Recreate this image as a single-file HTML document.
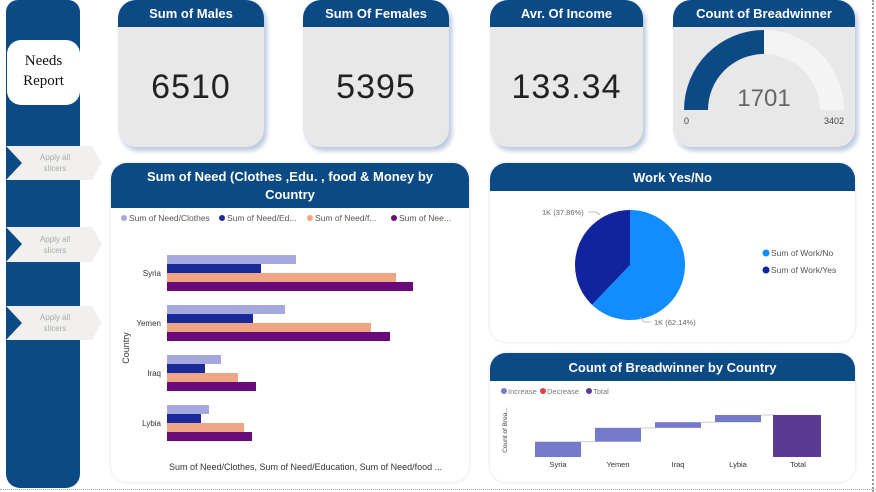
<!DOCTYPE html>
<html><head><meta charset="utf-8"><style>
body{margin:0;width:876px;height:492px;background:#fff;overflow:hidden;font-family:"Liberation Sans",sans-serif;position:relative}
.abs{position:absolute}
.card{position:absolute;background:#e8e8e9;border-radius:18px;box-shadow:3px 4px 5px rgba(60,100,160,.35);overflow:hidden}
.hdr{background:#0b4a85;color:#fff;font-weight:bold;text-align:center;font-size:13px}
.num{position:absolute;width:100%;text-align:center;font-size:34px;color:#222;letter-spacing:1px}
.panel{position:absolute;background:#fff;border-radius:16px;box-shadow:0 0 3px rgba(0,0,0,.15);overflow:hidden}
</style></head><body>
<div class="abs" style="left:872px;top:0;width:0;height:492px;border-left:2px dotted #999"></div>
<div class="abs" style="left:0;top:489px;width:876px;height:0;border-top:1px dotted #aaa"></div>
<div class="abs" style="left:6px;top:0;width:74px;height:488px;background:#0b4a85;border-radius:12px 12px 14px 14px"></div>
<div class="abs" style="left:7px;top:40px;width:73px;height:65px;background:#fff;border-radius:14px;font-family:'Liberation Serif',serif;font-size:15px;text-align:center;line-height:20px;padding-top:11px;box-sizing:border-box;color:#111">Needs<br>Report</div>
<svg class="abs" style="left:0;top:0" width="110" height="492">
<g><polygon points="6,146 92,146 102,163 92,180 6,180 22,163" fill="#f1f0ee"/><text x="55" y="160" font-size="8" fill="#aaa" text-anchor="middle">Apply all</text><text x="55" y="171" font-size="8" fill="#aaa" text-anchor="middle">slicers</text></g>
<g><polygon points="6,227 92,227 102,244 92,262 6,262 22,244" fill="#f1f0ee"/><text x="55" y="242" font-size="8" fill="#aaa" text-anchor="middle">Apply all</text><text x="55" y="253" font-size="8" fill="#aaa" text-anchor="middle">slicers</text></g>
<g><polygon points="6,306 92,306 102,323 92,340 6,340 22,323" fill="#f1f0ee"/><text x="55" y="320" font-size="8" fill="#aaa" text-anchor="middle">Apply all</text><text x="55" y="331" font-size="8" fill="#aaa" text-anchor="middle">slicers</text></g>
</svg>

<div class="card" style="left:118px;top:0;width:146px;height:147px"><div class="hdr" style="height:27px;line-height:28px">Sum of Males</div><div class="num" style="top:68px">6510</div></div>
<div class="card" style="left:303px;top:0;width:146px;height:147px"><div class="hdr" style="height:27px;line-height:28px">Sum Of Females</div><div class="num" style="top:68px">5395</div></div>
<div class="card" style="left:490px;top:0;width:153px;height:147px"><div class="hdr" style="height:27px;line-height:28px">Avr. Of Income</div><div class="num" style="top:68px">133.34</div></div>
<div class="card" style="left:673px;top:0;width:182px;height:147px"><div class="hdr" style="height:27px;line-height:28px">Count of Breadwinner</div>
<svg class="abs" style="left:0;top:0" width="182" height="147">
<path d="M11,110 A80,80 0 0 1 171,110 L147,110 A56,56 0 0 0 35,110 Z" fill="#f4f4f4"/>
<path d="M11,110 A80,80 0 0 1 91,30 L91,54 A56,56 0 0 0 35,110 Z" fill="#0b4a85"/>
<text x="91" y="106" font-size="24" fill="#666" text-anchor="middle">1701</text>
<text x="11" y="124" font-size="9" fill="#444">0</text>
<text x="171" y="124" font-size="9" fill="#444" text-anchor="end">3402</text>
</svg></div>

<div class="panel" style="left:111px;top:163px;width:358px;height:319px">
<div class="hdr" style="height:45px;line-height:18px;padding-top:5px;box-sizing:border-box">Sum of Need (Clothes ,Edu. , food &amp; Money by<br>Country</div>
<svg id="bar" class="abs" style="left:0;top:0" width="358" height="319"></svg></div>

<div class="panel" style="left:490px;top:163px;width:365px;height:179px">
<div class="hdr" style="height:28px;line-height:30px">Work Yes/No</div>
<svg id="pie" class="abs" style="left:0;top:0" width="365" height="179"></svg></div>

<div class="panel" style="left:490px;top:353px;width:365px;height:129px">
<div class="hdr" style="height:28px;line-height:30px">Count of Breadwinner by Country</div>
<svg id="wf" class="abs" style="left:0;top:0" width="365" height="129"></svg></div>

<script>
const NS="http://www.w3.org/2000/svg";
function mk(p,t,a){const e=document.createElementNS(NS,t);for(const k in a)e.setAttribute(k,a[k]);p.appendChild(e);return e;}
// ---- bar chart data
const countries=["Syria","Yemen","Iraq","Lybia"];
const seriesNames=["Sum of Need/Clothes","Sum of Need/Ed...","Sum of Need/f...","Sum of Nee..."];
const clothes=[129,118,54,42];
const education=[94,86,38,34];
const food=[229,204,71,77];
const money=[246,223,89,85];
const barColors=["#a5a8de","#1a2a9a","#f0a685","#6b0a7a"];
(function(){
 const s=document.getElementById('bar');
 const x0=56,sc=1.0,gTop=92,gH=50,bh=9;
 const xs=v=>x0+v*sc;
 const series=[clothes,education,food,money];
 const lx=[10,108,196,280];
 seriesNames.forEach((n,i)=>{
  const c=mk(s,'circle',{cx:lx[i]+3,cy:55,r:3,fill:barColors[i]});
  
  
  const t=mk(s,'text',{x:lx[i]+8,y:58,'font-size':8.5,fill:'#555'});t.textContent=n;
  
  
 });
 countries.forEach((c,ci)=>{
  const yc=gTop+ci*gH;
  const t=mk(s,'text',{x:x0-6,y:yc+bh*2+3,'font-size':8,fill:'#333','text-anchor':'end'});t.textContent=c;
  
  
  series.forEach((arr,si)=>{
   const r=mk(s,'rect',{x:x0,y:yc+si*bh+(si>0?1:0)*0,width:xs(arr[ci])-x0,height:bh,fill:barColors[si]});
   
   
  });
 });
 const yt=mk(s,'text',{x:0,y:0,'font-size':9,fill:'#333','text-anchor':'middle',transform:'translate(18,185) rotate(-90)'});yt.textContent='Country';
 
 
 const xt=mk(s,'text',{x:58,y:307,'font-size':9,fill:'#333'});xt.textContent='Sum of Need/Clothes, Sum of Need/Education, Sum of Need/food ...';
 
 
})();
// ---- pie data
const pieLabels=["Sum of Work/No","Sum of Work/Yes"];
const pieValues=[62.14,37.86];
const pieColors=["#118dff","#12239e"];
(function(){
 const s=document.getElementById('pie');
 const cx=140,cy=102,r=55;let a=0;
 const tot=pieValues.reduce((p,q)=>p+q,0);
 pieValues.forEach((v,i)=>{
  const a1=a+v/tot*2*Math.PI;
  const p=(t)=>[cx+r*Math.sin(t),cy-r*Math.cos(t)];
  const [x1,y1]=p(a),[x2,y2]=p(a1);
  const path=mk(s,'path',{d:`M${cx},${cy} L${x1},${y1} A${r},${r} 0 ${a1-a>Math.PI?1:0} 1 ${x2},${y2} Z`,fill:pieColors[i]});
  
  
  a=a1;
 });
 const l1=mk(s,'text',{x:52,y:52,'font-size':7.5,fill:'#666'});l1.textContent='1K ('+pieValues[1].toFixed(2)+'%)';
 
 
 mk(s,'polyline',{points:'98,49 106,49 110,52',fill:'none',stroke:'#aaa','stroke-width':0.8});
 const l2=mk(s,'text',{x:164,y:162,'font-size':7.5,fill:'#666'});l2.textContent='1K ('+pieValues[0].toFixed(2)+'%)';
 
 
 mk(s,'polyline',{points:'150,154 154,159 161,159',fill:'none',stroke:'#aaa','stroke-width':0.8});
 pieLabels.forEach((n,i)=>{
  const c=mk(s,'circle',{cx:276,cy:90+i*17,r:3.5,fill:pieColors[i]});
  
  
  const t=mk(s,'text',{x:281,y:93+i*17,'font-size':8.5,fill:'#555'});t.textContent=n;
  
  
 });
})();
// ---- waterfall data
const wfCats=["Syria","Yemen","Iraq","Lybia"];
const wfValues=[620,560,230,291];
const wfLegend=["Increase","Decrease","Total"];
const wfLegendColors=["#7579c9","#d64550","#5b3a94"];
(function(){
 const s=document.getElementById('wf');
 const base=104,sc=42/1701,bw=46,step=60,x0=45;
 const y=v=>base-v*sc;
 wfLegend.forEach((n,i)=>{
  const xx=[14,53,99][i];
  const c=mk(s,'circle',{cx:xx,cy:38,r:3,fill:wfLegendColors[i]});
  
  
  const t=mk(s,'text',{x:xx+4,y:41,'font-size':7.5,fill:'#777'});t.textContent=n;
  
  
 });
 const yt=mk(s,'text',{x:0,y:0,'font-size':6.5,fill:'#444','text-anchor':'middle',transform:'translate(17,77) rotate(-90)'});yt.textContent='Count of Brea...';
 
 
 let cum=0;
 const cats=wfCats.concat(["Total"]);
 cats.forEach((c,i)=>{
  const xx=x0+i*step;let r;
  if(i<wfCats.length){
   const v=wfValues[i];
   r=mk(s,'rect',{x:xx,y:y(cum+v),width:bw,height:v*sc,fill:'#7579c9'});
   cum+=v;
   mk(s,'line',{x1:xx+bw,x2:xx+step,y1:y(cum),y2:y(cum),stroke:'#ccc','stroke-width':1});
  } else {
   r=mk(s,'rect',{x:xx-2,y:y(cum),width:bw+2,height:cum*sc,fill:'#5b3a94'});
  }
  
  
  const t=mk(s,'text',{x:xx+bw/2,y:114,'font-size':7.5,fill:'#333','text-anchor':'middle'});t.textContent=c;
  
  
 });
})();
</script>
</body></html>
